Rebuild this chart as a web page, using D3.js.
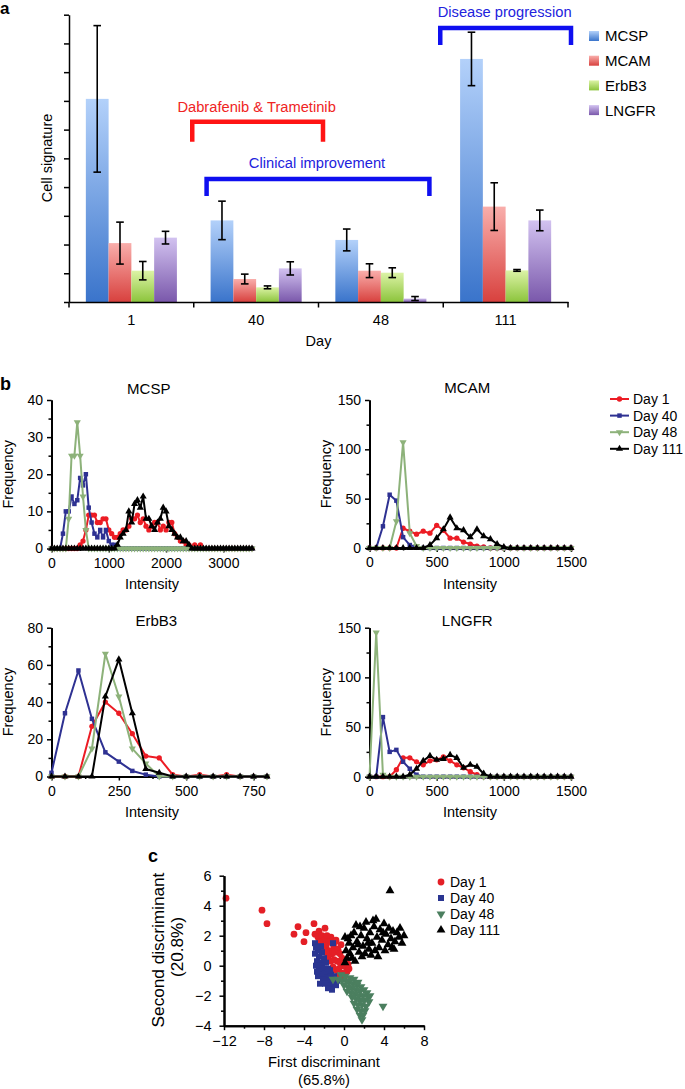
<!DOCTYPE html>
<html><head><meta charset="utf-8">
<script src="https://cdn.jsdelivr.net/npm/d3@7/dist/d3.min.js"></script>
<style>
html,body{margin:0;padding:0;background:#fff;}
svg{display:block;font-family:"Liberation Sans",Arial,Helvetica,sans-serif;}
</style></head><body>
<svg id="fig" width="685" height="1089"></svg>
<script>
// ================= DATA =================
// Panel a
const days = ["1", "40", "48", "111"];
const signatures = ["MCSP", "MCAM", "ErbB3", "LNGFR"];
const mcspSignal  = [7.07, 2.84, 2.16, 8.46];
const mcspError   = [2.55, 0.67, 0.38, 0.93];
const mcamSignal  = [2.05, 0.80, 1.09, 3.32];
const mcamError   = [0.73, 0.17, 0.24, 0.83];
const erbb3Signal = [1.09, 0.51, 1.02, 1.10];
const erbb3Error  = [0.32, 0.05, 0.17, 0.03];
const lngfrSignal = [2.24, 1.17, 0.12, 2.84];
const lngfrError  = [0.22, 0.23, 0.07, 0.36];
const annotationLabels = ["Dabrafenib & Trametinib", "Clinical improvement", "Disease progression"];

// Panel b
const dayLabels = ["Day 1", "Day 40", "Day 48", "Day 111"];
const mcspBins = [0,50,100,150,200,250,300,350,400,450,500,550,600,650,700,750,800,850,900,950,1000,1050,1100,1150,1200,1250,1300,1350,1400,1450,1500,1550,1600,1650,1700,1750,1800,1850,1900,1950,2000,2050,2100,2150,2200,2250,2300,2350,2400,2450,2500,2550,2600,2650,2700,2750,2800,2850,2900,2950,3000,3050,3100,3150,3200,3250,3300,3350,3400,3450,3500];
const mcspDay1 = [0,0,0,0,0,0,0,0,0,0, 1,2,5,9,9,9,7,7,8,8, 5,4,3,3,4,5,5,6,8,8, 9,7,8,6,5,6,7,7,5,6, 5,7,7,4,3,2,2,1,1,0, 1,0,1,0,0,0,0,0,0,0, 0,0,0,0,0,0,0,0,0,0, 0];
const mcspDay40 = [0,0,0,0,4,10,10,14,12,13, 19,17,20,11,7,4,3,5,3,5, 2,1,1,0,0,0,0,0,0,0, 0,0,0,0,0,0,0,0,0,0, 0,0,0,0,0,0,0,0,0,0, 0,0,0,0,0,0,0,0,0,0, 0,0,0,0,0,0,0,0,0,0, 0];
const mcspDay48 = [0,0,0,0,0,0,8,25,25,34, 25,14,5,0,0,0,0,0,0,0, 0,0,0,0,0,0,0,0,0,0, 0,0,0,0,0,0,0,0,0,0, 0,0,0,0,0,0,0,0,0,0, 0,0,0,0,0,0,0,0,0,0, 0,0,0,0,0,0,0,0,0,0, 0];
const mcspDay111 = [0,0,0,0,0,0,0,0,0,0, 0,0,0,0,0,0,0,0,0,0, 0,0,0,1,3,4,5,10,7,12, 13,11,14,8,8,6,5,7,8,11, 10,6,5,4,3,3,2,2,1,0, 0,0,0,0,0,0,0,0,0,0, 0,0,0,0,0,0,0,0,0,0, 0];
const mcspXTicks = [0, 1000, 2000, 3000];
const mcspYTicks = [0, 10, 20, 30, 40];

const mcamBins = [0,50,100,150,200,250,300,350,400,450,500,550,600,650,700,750,800,850,900,950,1000,1050,1100,1150,1200,1250,1300,1350,1400,1450,1500];
const mcamDay1 = [0,0,0,0,0,20,17,14,17,15, 23,18,10,10,6,4,2,1,0,0, 0,0,0,0,0,0,0,0,0,0, 0];
const mcamDay40 = [0,0,22,54,48,11,3,1,0,0, 0,0,0,0,0,0,0,0,0,0, 0,0,0,0,0,0,0,0,0,0, 0];
const mcamDay48 = [0,0,0,0,27,107,15,2,0,0, 0,0,0,0,0,0,0,0,0,0, 0,0,0,0,0,0,0,0,0,0, 0];
const mcamDay111 = [0,0,0,0,0,0,0,0,0,3, 10,19,31,20,18,11,19,12,9,4, 1,0,0,0,0,0,0,0,0,0, 0];
const mcamXTicks = [0, 500, 1000, 1500];
const mcamYTicks = [0, 50, 100, 150];

const erbb3Bins = [0,50,100,150,200,250,300,350,400,450,500,550,600,650,700,750,800];
const erbb3Day1 = [0,0,0,27,40,34,23,11,10,1,0,1,0,1,0,0,0];
const erbb3Day40 = [2,34,57,31,13,8,3,1,0,0,0,0,0,0,0,0,0];
const erbb3Day48 = [0,0,0,15,66,43,15,7,0,0,0,0,0,0,0,0,0];
const erbb3Day111 = [0,0,0,0,43,63,34,4,2,0,0,0,0,0,0,0,0];
const erbb3XTicks = [0, 250, 500, 750];
const erbb3YTicks = [0, 20, 40, 60, 80];

const lngfrBins = [0,50,100,150,200,250,300,350,400,450,500,550,600,650,700,750,800,850,900,950,1000,1050,1100,1150,1200,1250,1300,1350,1400,1450,1500];
const lngfrDay1 = [0,0,0,0,7,19,19,15,12,16, 17,20,16,12,9,5,2,0,0,0, 0,0,0,0,0,0,0,0,0,0, 0];
const lngfrDay40 = [0,0,60,25,27,15,8,2,0,0, 0,0,0,0,0,0,0,0,0,0, 0,0,0,0,0,0,0,0,0,0, 0];
const lngfrDay48 = [0,145,2,0,0,0,0,0,0,0, 0,0,0,0,0,0,0,0,0,0, 0,0,0,0,0,0,0,0,0,0, 0];
const lngfrDay111 = [0,0,0,0,0,0,2,8,16,21, 17,18,22,19,9,12,10,3,0,0, 0,0,0,0,0,0,0,0,0,0, 0];
const lngfrXTicks = [0, 500, 1000, 1500];
const lngfrYTicks = [0, 50, 100, 150];

// Panel c (first discriminant, second discriminant)
const ldaDay1 = [[-11.8,4.5],[-8.2,3.7],[-7.7,2.8],[-5.0,2.1],[-4.6,2.6],[-4.0,1.6],[-3.8,2.2],[-3.0,2.8],[-2.9,2.1],[-2.5,2.3],[-1.9,2.5],[-1.3,1.9],[-0.8,1.7],
 [-2.6,1.9],[-2.2,2.0],[-2.0,1.7],[-1.7,2.0],[-1.5,1.6],[-1.2,1.5],[-1.0,1.2],[-2.3,1.4],[-1.8,1.3],[-1.5,1.0],[-1.2,0.8],[-0.9,0.9],[-0.6,1.1],[-0.4,0.8],[-0.2,0.5],
 [-1.6,0.6],[-1.3,0.3],[-1.0,0.4],[-0.7,0.3],[-0.4,0.2],[-0.1,0.0],[0.2,-0.1],[-1.1,-0.1],[-0.8,-0.3],[-0.5,-0.2],[-0.2,-0.5],[0.3,-0.4],[0.5,-0.2],[-0.6,-0.7],[0.0,-0.8],
 [-2.0,1.0],[-1.8,0.9],[-2.5,1.6],[-0.3,1.4],[-0.9,1.6],[0.1,0.3],[0.4,0.1]];
const ldaDay40 = [[-2.9,1.5],[-2.8,1.2],[-2.6,1.0],[-2.9,0.8],[-2.5,0.6],[-2.7,0.3],[-2.4,0.2],[-2.8,0.0],[-2.2,0.0],[-2.5,-0.3],[-2.0,-0.2],[-2.3,-0.6],[-1.9,-0.5],[-2.6,-0.7],
 [-1.7,-0.8],[-2.1,-0.9],[-1.5,-1.0],[-1.9,-1.2],[-1.3,-1.3],[-1.6,-1.5],[-1.1,-1.1],[-2.4,-1.2],[-2.0,0.5],[-2.2,0.9],[-1.8,0.2],[-1.6,-0.2],[-1.3,-0.6],[-1.0,-0.7],
 [-0.7,-1.0],[-1.1,1.5],[-2.3,1.3],[-1.4,-0.3],[-0.8,-1.3],[-2.7,-0.4],[-1.2,-1.6]];
const ldaDay48 = [[-1.1,-0.9],[-0.6,-0.9],[-0.2,-1.0],[0.2,-1.0],[0.5,-1.1],[0.9,-1.2],[1.3,-1.3],[1.7,-1.4],[0.0,-1.3],[0.4,-1.4],[0.8,-1.5],[1.2,-1.6],[1.6,-1.7],[2.0,-1.6],
 [2.3,-1.8],[0.3,-1.7],[0.7,-1.8],[1.1,-1.9],[1.5,-2.0],[1.9,-2.0],[2.4,-2.1],[0.8,-2.1],[1.2,-2.2],[1.6,-2.3],[2.0,-2.3],[2.5,-2.4],[1.0,-2.5],[1.4,-2.6],[1.8,-2.6],
 [2.2,-2.7],[1.3,-2.9],[1.7,-3.0],[2.1,-3.0],[1.6,-3.3],[1.9,-3.3],[1.8,-3.6],[3.9,-2.7],[-0.3,-0.6],[0.6,-0.8],[1.0,-0.9],[2.6,-2.0],[1.4,-1.1],[0.1,-0.7]];
const ldaDay111 = [[0.1,0.2],[0.3,0.5],[0.2,1.0],[0.1,1.9],[0.5,1.5],[0.6,0.8],[0.9,1.2],[1.0,2.2],[1.2,2.7],[1.3,1.6],[1.5,0.9],[1.7,2.0],[1.9,1.3],[2.0,2.5],[2.2,2.9],
 [2.3,1.8],[2.5,1.1],[2.6,2.2],[2.8,1.5],[3.0,2.6],[3.2,3.1],[3.3,1.9],[3.5,1.2],[3.6,2.4],[3.8,1.7],[4.0,2.8],[4.2,2.1],[4.4,1.4],[4.5,2.5],[4.7,1.8],[4.9,2.3],[5.1,1.6],
 [5.3,2.2],[5.6,2.5],[5.8,1.5],[6.0,2.0],[0.8,0.5],[1.1,0.3],[1.4,1.4],[2.1,0.8],[2.7,0.7],[3.1,1.0],[0.4,1.8],[1.6,2.6],[2.9,3.0],[4.1,1.0],[4.6,5.0],[5.0,1.1],[3.4,0.6],
 [0.7,2.0],[1.8,0.6],[2.4,1.5],[3.9,2.2],[4.8,1.2],[5.5,1.9]];
const ldaXTicks = [-12, -8, -4, 0, 4, 8];
const ldaYTicks = [-4, -2, 0, 2, 4, 6];

// ================= DRAWING =================
const svg = d3.select("#fig");
const defs = svg.append("defs");
const plainFmt = d3.format("d");

// ---------- Panel a ----------
const sigValues = {MCSP: mcspSignal, MCAM: mcamSignal, ErbB3: erbb3Signal, LNGFR: lngfrSignal};
const sigErrors = {MCSP: mcspError, MCAM: mcamError, ErbB3: erbb3Error, LNGFR: lngfrError};
const barPalette = {MCSP: ["#b3d1fa", "#3a74cb"], MCAM: ["#f9aeab", "#d8413e"], ErbB3: ["#dcf3a6", "#8cc43c"], LNGFR: ["#d2c2f0", "#7a58ab"]};
signatures.forEach((s, i) => {
  const gr = defs.append("linearGradient").attr("id", "grad" + i).attr("x1", 0).attr("y1", 0).attr("x2", 0).attr("y2", 1);
  gr.append("stop").attr("offset", "0%").attr("stop-color", barPalette[s][0]);
  gr.append("stop").attr("offset", "100%").attr("stop-color", barPalette[s][1]);
});

const xA = d3.scaleBand().domain(days).range([69, 568]);
const xSub = d3.scaleBand().domain(signatures).range([0, xA.bandwidth()]).paddingOuter(0.74);
const yA = d3.scaleLinear().domain([0, 10]).range([302, 14.7]);
const gA = svg.append("g");

const barTable = [];
days.forEach((d, di) => signatures.forEach((s, si) => barTable.push({day: d, sig: s, si, v: sigValues[s][di], e: sigErrors[s][di]})));

gA.selectAll("rect.bar").data(barTable).join("rect").attr("class", "bar")
  .attr("x", d => xA(d.day) + xSub(d.sig)).attr("width", xSub.bandwidth())
  .attr("y", d => yA(d.v)).attr("height", d => yA(0) - yA(d.v))
  .attr("fill", d => `url(#grad${d.si})`);

const eb = gA.selectAll("g.err").data(barTable).join("g").attr("class", "err")
  .attr("transform", d => `translate(${xA(d.day) + xSub(d.sig) + xSub.bandwidth() / 2},0)`)
  .attr("stroke", "#000").attr("stroke-width", 1.6);
eb.append("line").attr("x1", 0).attr("x2", 0).attr("y1", d => yA(d.v + d.e)).attr("y2", d => yA(d.v - d.e));
eb.append("line").attr("x1", -3.8).attr("x2", 3.8).attr("y1", d => yA(d.v + d.e)).attr("y2", d => yA(d.v + d.e));
eb.append("line").attr("x1", -3.8).attr("x2", 3.8).attr("y1", d => yA(d.v - d.e)).attr("y2", d => yA(d.v - d.e));

const yAxA = gA.append("g").attr("transform", "translate(69,0)")
  .call(d3.axisLeft(yA).ticks(10).tickFormat("").tickSize(5).tickSizeOuter(0));
yAxA.selectAll("path,line").attr("stroke", "#000").attr("stroke-width", 1.5);

const xAxA = gA.append("g").attr("transform", "translate(0,302)")
  .call(d3.axisBottom(xA).tickSize(0).tickPadding(12.5).tickSizeOuter(0));
xAxA.select(".domain").attr("stroke", "#000").attr("stroke-width", 1.5);
xAxA.selectAll("text").attr("font-size", 14.5).attr("fill", "#000").attr("font-family", null);
const bounds = days.map(d => xA(d)).concat([xA.range()[1]]);
xAxA.selectAll("line.bound").data(bounds).join("line").attr("class", "bound")
  .attr("x1", d => d).attr("x2", d => d).attr("y1", 0).attr("y2", 5.5).attr("stroke", "#000").attr("stroke-width", 1.5);

gA.append("text").attr("x", (xA.range()[0] + xA.range()[1]) / 2).attr("y", 346).attr("text-anchor", "middle").attr("font-size", 14.5).text("Day");
gA.append("text").attr("transform", "translate(52,158) rotate(-90)").attr("text-anchor", "middle").attr("font-size", 14.5).text("Cell signature");

// brackets
const brackets = [
  {label: annotationLabels[0], x1: xA("40") - 1.5, x2: xA("48") + 4.5, yLine: 121.7, yLeg: 141.7, yText: 112, color: "#ff1414", textColor: "#ef2424"},
  {label: annotationLabels[1], x1: xA("40") + xSub("MCSP") - 4, x2: xA("48") + xSub("LNGFR") + xSub.bandwidth() + 3, yLine: 179, yLeg: 196, yText: 168, color: "#0f0ff0", textColor: "#2222dd"},
  {label: annotationLabels[2], x1: xA("111") - 3, x2: xA.range()[1] + 3, yLine: 28, yLeg: 45, yText: 16.5, color: "#0f0ff0", textColor: "#2222dd"}
];
brackets.forEach(b => {
  gA.append("path").attr("d", `M${b.x1},${b.yLeg}V${b.yLine}H${b.x2}V${b.yLeg}`)
    .attr("fill", "none").attr("stroke", b.color).attr("stroke-width", 4.5).attr("stroke-linejoin", "miter");
  gA.append("text").attr("x", (b.x1 + b.x2) / 2 - 1).attr("y", b.yText).attr("text-anchor", "middle")
    .attr("font-size", 14.7).attr("fill", b.textColor).text(b.label);
});

// legend a
const legA = gA.append("g");
signatures.forEach((s, i) => {
  const cy = 36 + i * 24.7;
  legA.append("rect").attr("x", 589).attr("y", cy - 5).attr("width", 10).attr("height", 10).attr("fill", `url(#grad${i})`);
  legA.append("text").attr("x", 605).attr("y", cy + 5.4).attr("font-size", 15).text(s);
});

svg.append("text").attr("x", 0).attr("y", 14).attr("font-size", 17).attr("font-weight", "bold").text("a");

// ---------- Panel b ----------
const seriesColors = ["#ec1c24", "#2e3192", "#8db27a", "#000000"];
const seriesSymbols = [d3.symbolCircle, d3.symbolSquare, d3.symbolTriangle, d3.symbolTriangle];
const seriesRot = [0, 0, 180, 0];
const seriesSizes = [22, 20, 22, 22];

const histPanels = [
  {title: "MCSP", bins: mcspBins, series: [mcspDay1, mcspDay40, mcspDay48, mcspDay111], xDomain: [0, 3500], yDomain: [0, 40], xTicks: mcspXTicks, yTicks: mcspYTicks,
   xMinor: [500, 1500, 2500, 3500], yMinor: [5, 15, 25, 35],
   xRange: [51.5, 252], yRange: [548.5, 400], titleY: 394, labelX: 152},
  {title: "MCAM", bins: mcamBins, series: [mcamDay1, mcamDay40, mcamDay48, mcamDay111], xDomain: [0, 1500], yDomain: [0, 150], xTicks: mcamXTicks, yTicks: mcamYTicks,
   xMinor: [250, 750, 1250], yMinor: [25, 75, 125],
   xRange: [369.5, 571], yRange: [548, 400], titleY: 393, labelX: 470},
  {title: "ErbB3", bins: erbb3Bins, series: [erbb3Day1, erbb3Day40, erbb3Day48, erbb3Day111], xDomain: [0, 800], yDomain: [0, 80], xTicks: erbb3XTicks, yTicks: erbb3YTicks,
   xMinor: [125, 375, 625], yMinor: [10, 30, 50, 70],
   xRange: [51.5, 267], yRange: [776.5, 627.7], titleY: 626, labelX: 152},
  {title: "LNGFR", bins: lngfrBins, series: [lngfrDay1, lngfrDay40, lngfrDay48, lngfrDay111], xDomain: [0, 1500], yDomain: [0, 150], xTicks: lngfrXTicks, yTicks: lngfrYTicks,
   xMinor: [250, 750, 1250], yMinor: [25, 75, 125],
   xRange: [369.5, 571], yRange: [776.7, 627.7], titleY: 626, labelX: 470}
];

function styleAxis(g, fs) {
  g.select(".domain").attr("stroke", "#000").attr("stroke-width", 2);
  g.selectAll(".tick line").attr("stroke", "#000").attr("stroke-width", 1.5);
  g.selectAll("text").attr("font-size", fs).attr("fill", "#000").attr("font-family", null);
}

histPanels.forEach(p => {
  const g = svg.append("g");
  const x = d3.scaleLinear().domain(p.xDomain).range(p.xRange);
  const y = d3.scaleLinear().domain(p.yDomain).range(p.yRange);
  const x0 = p.xRange[0], y0 = p.yRange[0];

  const gxm = g.append("g").attr("transform", `translate(0,${y0})`).call(d3.axisBottom(x).tickValues(p.xMinor).tickSize(2.5).tickSizeOuter(0).tickFormat(""));
  styleAxis(gxm, 14);
  const gx = g.append("g").attr("transform", `translate(0,${y0})`).call(d3.axisBottom(x).tickValues(p.xTicks).tickFormat(plainFmt).tickSize(4).tickSizeOuter(0).tickPadding(5.5));
  styleAxis(gx, 14);
  const gym = g.append("g").attr("transform", `translate(${x0},0)`).call(d3.axisLeft(y).tickValues(p.yMinor).tickSize(3).tickSizeOuter(0).tickFormat(""));
  styleAxis(gym, 14);
  const gy = g.append("g").attr("transform", `translate(${x0},0)`).call(d3.axisLeft(y).tickValues(p.yTicks).tickFormat(plainFmt).tickSize(4.5).tickSizeOuter(0).tickPadding(4));
  styleAxis(gy, 14);

  p.series.forEach((vals, si) => {
    const pts = p.bins.map((b, i) => [b, vals[i]]);
    g.append("path").datum(pts).attr("d", d3.line().x(d => x(d[0])).y(d => y(d[1])))
      .attr("fill", "none").attr("stroke", seriesColors[si]).attr("stroke-width", 2).attr("stroke-linejoin", "round");
    g.append("g").selectAll("path").data(pts).join("path")
      .attr("transform", d => `translate(${x(d[0])},${y(d[1])}) rotate(${seriesRot[si]})`)
      .attr("d", d3.symbol().type(seriesSymbols[si]).size(seriesSizes[si]))
      .attr("fill", seriesColors[si]);
  });

  g.append("text").attr("x", (x0 + p.xRange[1]) / 2 - 3).attr("y", p.titleY).attr("text-anchor", "middle").attr("font-size", 15).text(p.title);
  g.append("text").attr("x", p.labelX).attr("y", y0 + 40.5).attr("text-anchor", "middle").attr("font-size", 14.5).text("Intensity");
  g.append("text").attr("transform", `translate(${x0 - 38.5},${(p.yRange[0] + p.yRange[1]) / 2}) rotate(-90)`).attr("text-anchor", "middle").attr("font-size", 14.5).text("Frequency");
});

// legend b
const legB = svg.append("g");
dayLabels.forEach((lab, si) => {
  const cy = 399 + si * 16.6;
  legB.append("line").attr("x1", 610).attr("x2", 629).attr("y1", cy).attr("y2", cy).attr("stroke", seriesColors[si]).attr("stroke-width", 2);
  legB.append("path").attr("transform", `translate(619.5,${cy}) rotate(${seriesRot[si]})`).attr("d", d3.symbol().type(seriesSymbols[si]).size(seriesSizes[si])).attr("fill", seriesColors[si]);
  legB.append("text").attr("x", 633).attr("y", cy + 5).attr("font-size", 14).text(lab);
});

svg.append("text").attr("x", 0).attr("y", 390).attr("font-size", 18).attr("font-weight", "bold").text("b");

// ---------- Panel c ----------
const cColors = ["#e41f26", "#2a3591", "#4b7f5f", "#000000"];
const cSizes = [36, 36, 34, 34];
const xC = d3.scaleLinear().domain([-12, 8]).range([224, 424]);
const yC = d3.scaleLinear().domain([-4, 6]).range([1025.7, 875.7]);
const gC = svg.append("g");

[ldaDay1, ldaDay40, ldaDay48, ldaDay111].forEach((pts, si) => {
  gC.append("g").selectAll("path").data(pts).join("path")
    .attr("transform", d => `translate(${xC(d[0])},${yC(d[1])}) rotate(${seriesRot[si]})`)
    .attr("d", d3.symbol().type(seriesSymbols[si]).size(cSizes[si]))
    .attr("fill", cColors[si]);
});

const gcxm = gC.append("g").attr("transform", "translate(0,1025.7)").call(d3.axisBottom(xC).tickValues([-10, -6, -2, 2, 6]).tickSize(3).tickSizeOuter(0).tickFormat(""));
styleAxis(gcxm, 14.5);
const gcx = gC.append("g").attr("transform", "translate(0,1025.7)").call(d3.axisBottom(xC).tickValues(ldaXTicks).tickSize(4.5).tickSizeOuter(0).tickPadding(5.5));
styleAxis(gcx, 14.5);
const gcym = gC.append("g").attr("transform", "translate(224,0)").call(d3.axisLeft(yC).tickValues([-3, -1, 1, 3, 5]).tickSize(3).tickSizeOuter(0).tickFormat(""));
styleAxis(gcym, 14.5);
const gcy = gC.append("g").attr("transform", "translate(224,0)").call(d3.axisLeft(yC).tickValues(ldaYTicks).tickSize(4.5).tickSizeOuter(0).tickPadding(8));
styleAxis(gcy, 14.5);

gC.append("text").attr("x", 324).attr("y", 1067).attr("text-anchor", "middle").attr("font-size", 14.8).text("First discriminant");
gC.append("text").attr("x", 324).attr("y", 1085).attr("text-anchor", "middle").attr("font-size", 14.8).text("(65.8%)");
gC.append("text").attr("transform", "translate(163.5,950) rotate(-90)").attr("text-anchor", "middle").attr("font-size", 17.2).text("Second discriminant");
gC.append("text").attr("transform", "translate(183,947) rotate(-90)").attr("text-anchor", "middle").attr("font-size", 17.2).text("(20.8%)");

const legC = gC.append("g");
dayLabels.forEach((lab, si) => {
  const cy = 882 + si * 16;
  legC.append("path").attr("transform", `translate(441,${cy}) rotate(${seriesRot[si]})`).attr("d", d3.symbol().type(seriesSymbols[si]).size(cSizes[si])).attr("fill", cColors[si]);
  legC.append("text").attr("x", 450).attr("y", cy + 5).attr("font-size", 14).text(lab);
});

svg.append("text").attr("x", 148).attr("y", 862).attr("font-size", 18).attr("font-weight", "bold").text("c");
</script>
</body></html>
